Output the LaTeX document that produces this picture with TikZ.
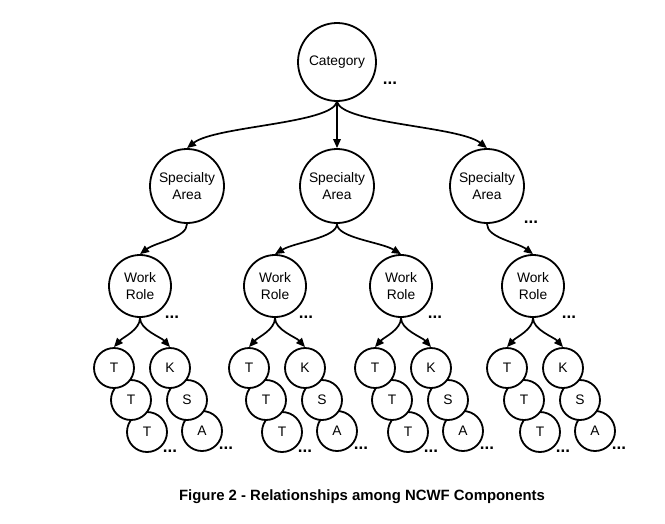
\documentclass[tikz,border=0pt]{standalone}
\usepackage{fontspec}
\setmainfont{Liberation Sans}
\usetikzlibrary{arrows.meta}
\begin{document}
\begin{tikzpicture}[x=1pt,y=-1pt,
  circ/.style={circle,draw,line width=1.8pt,fill=white,inner sep=0pt,align=center,font=\fontsize{13.8}{16.5}\selectfont},
  big/.style={circ,minimum size=78pt},
  sa/.style={circ,minimum size=74pt},
  wr/.style={circ,minimum size=62pt},
  leaf/.style={circ,minimum size=40pt},
  arr/.style={line width=1.7pt,-{Triangle[length=9pt,width=7.5pt]}},
  dots/.style={font=\bfseries\fontsize{17}{17}\selectfont,inner sep=0pt}]
\useasboundingbox (0,0) rectangle (665,523);

\node[big] (cat) at (337,62) {Category};
\node[dots] (catd) at (390,83) {...};

\node[sa] (sa1) at (187,186) {Specialty\\Area};
\node[sa] (sa2) at (337,186) {Specialty\\Area};
\node[sa] (sa3) at (487,186) {Specialty\\Area};
\node[dots] (sad) at (531,222) {...};

\draw[arr] (cat.south) .. controls +(-6,22) and +(28,-22) .. (sa1.north);
\draw[arr] (cat.south) -- (sa2.north);
\draw[arr] (cat.south) .. controls +(6,22) and +(-28,-22) .. (sa3.north);

\foreach \x/\i/\d in {140/1/172,275/2/306,401/3/435,533/4/569}{
  \node[wr] (wr\i) at (\x,286) {Work\\Role};
  \node[dots] (wrd\i) at (\d,317) {...};
  \node[leaf] (tc\i) at ({\x+7},432) {T};
  \node[leaf] (tb\i) at ({\x-9},400) {T};
  \node[leaf] (ta\i) at ({\x-26},368) {T};
  \node[leaf] (a\i) at ({\x+62},431) {A};
  \node[leaf] (s\i) at ({\x+47},400) {S};
  \node[leaf] (k\i) at ({\x+30},368) {K};
  \node[dots] (td\i) at ({\x+30},451) {...};
  \node[dots] (ad\i) at ({\x+86},448) {...};
  \draw[arr] (wr\i.south) .. controls +(0,12) and +(9,-10) .. (ta\i.north);
  \draw[arr] (wr\i.south) .. controls +(0,12) and +(-9,-10) .. (k\i.north);
}

\draw[arr] (sa1.south) .. controls +(0,14) and +(16,-12) .. (wr1.north);
\draw[arr] (sa2.south) .. controls +(0,14) and +(20,-12) .. (wr2.north);
\draw[arr] (sa2.south) .. controls +(0,14) and +(-20,-12) .. (wr3.north);
\draw[arr] (sa3.south) .. controls +(0,14) and +(-16,-12) .. (wr4.north);

\node[font=\bfseries\fontsize{14.9}{18}\selectfont,inner sep=0pt] (cap) at (362,497) {Figure 2 - Relationships among NCWF Components};
\end{tikzpicture}
\end{document}
